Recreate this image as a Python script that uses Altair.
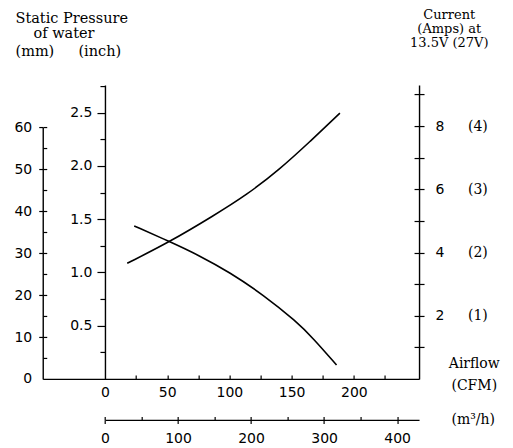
import altair as alt
import pandas as pd

# ---------------- data ----------------
pressure_cfm = [23.5, 52.2, 75.0, 100.4, 127.2, 154.0, 167.3, 186.1]
pressure_inch = [1.437, 1.289, 1.164, 1.0, 0.79, 0.538, 0.382, 0.131]

current_cfm = [17.9, 52.2, 87.0, 113.8, 140.6, 164.7, 188.8]
current_amps = [3.66, 4.34, 5.16, 5.82, 6.64, 7.51, 8.41]

cfm_labels = [0, 50, 100, 150, 200]
cfm_ticks = [25, 50, 75, 100, 125, 150, 175, 200, 225]
m3h_labels = [0, 100, 200, 300, 400]
m3h_ticks = [0, 50, 100, 150, 200, 250, 300, 350, 400]
inch_labels = [0.5, 1.0, 1.5, 2.0, 2.5]
inch_minor = [0.25, 0.75, 1.25, 1.75, 2.25, 2.75]
mm_labels = [0, 10, 20, 30, 40, 50, 60]
mm_major = [10, 20, 30, 40, 50, 60]
mm_ticks = [5, 10, 15, 20, 25, 30, 35, 40, 45, 50, 55, 60]
amp_labels = [2, 4, 6, 8]
amp_ticks = [1, 2, 3, 4, 5, 6, 7, 8, 9]

left_title = ["Static Pressure", "of water", "(mm)", "(inch)"]
right_title = ["Current", "(Amps) at", "13.5V  (27V)"]
flow_title = ["Airflow", "(CFM)"]
m3h_title = "(m³/h)"

# ---------------- layout ----------------
W, H = 376.5, 294
CFM_DOMAIN = [-50, 252.4]
INCH_DOMAIN = [0, 2.76]
MM_DOMAIN = [0, 60]
MM_RANGE = [H, H - 60 / 25.4 * H / INCH_DOMAIN[1]]
AMP_DOMAIN = [0, 9.3]
M3H_DOMAIN = [0, 430]
X0 = W * 50 / (CFM_DOMAIN[1] - CFM_DOMAIN[0])  # pixel of 0 CFM
M3H_RANGE = [X0, W]
M3H_OFF = 41
TITLE_FONT = "DejaVu Serif"
LT_SIZE = 14.5

cfm_scale = alt.Scale(domain=CFM_DOMAIN, nice=False, zero=False)
inch_scale = alt.Scale(domain=INCH_DOMAIN, nice=False, zero=False)
mm_scale = alt.Scale(domain=MM_DOMAIN, range=MM_RANGE, nice=False, zero=False)
amp_scale = alt.Scale(domain=AMP_DOMAIN, nice=False, zero=False)
m3h_scale = alt.Scale(domain=M3H_DOMAIN, range=M3H_RANGE, nice=False, zero=False)

line_style = dict(color="black", strokeWidth=1.6, interpolate="basis")

press_df = pd.DataFrame({"cfm": pressure_cfm, "inch": pressure_inch})
cur_df = pd.DataFrame({"cfm": current_cfm, "amps": current_amps})

pressure = alt.Chart(press_df).mark_line(**line_style).encode(
    x=alt.X("cfm:Q", scale=cfm_scale,
            axis=alt.Axis(orient="bottom", values=cfm_labels, ticks=False, labelPadding=7,
                          domain=True, title=flow_title, titleX=431.25, titleY=-11,
                          titleAngle=0, titleAlign="center", titleBaseline="alphabetic",
                          titleLineHeight=22)),
    y=alt.Y("inch:Q", scale=inch_scale,
            axis=alt.Axis(orient="left", offset=-X0, values=inch_labels, format=".1f",
                          tickSize=8, labelPadding=5, domain=True,
                          title=left_title[3], titleX=-27, titleY=-30, titleAngle=0,
                          titleFontSize=LT_SIZE, titleAlign="left",
                          titleBaseline="alphabetic")),
)

current = alt.Chart(cur_df).mark_line(**line_style).encode(
    x=alt.X("cfm:Q", scale=cfm_scale,
            axis=alt.Axis(orient="top", offset=-H, values=cfm_ticks, labels=False,
                          domain=False, tickSize=4, title=None)),
    y=alt.Y("amps:Q", scale=amp_scale,
            axis=alt.Axis(orient="right", values=amp_labels, ticks=False, labelPadding=16,
                          domain=True, title=right_title, titleX=29.75, titleY=-66.5,
                          titleAngle=0, titleAlign="center", titleBaseline="alphabetic",
                          titleFontSize=13, titleLineHeight=13.8)),
)


def ylayer(values, scale, axis):
    df = pd.DataFrame({"v": values})
    return alt.Chart(df).mark_point(opacity=0).encode(
        y=alt.Y("v:Q", scale=scale, axis=axis))


def xlayer(values, scale, axis):
    df = pd.DataFrame({"v": values})
    return alt.Chart(df).mark_point(opacity=0).encode(
        x=alt.X("v:Q", scale=scale, axis=axis))


inch_minor_l = ylayer(inch_minor, inch_scale, alt.Axis(
    orient="left", offset=-X0, values=inch_minor, labels=False, domain=False, tickSize=5,
    title=left_title[1], titleX=-9.75 - X0, titleY=-47.5, titleAngle=0,
    titleFontSize=LT_SIZE, titleAlign="left", titleBaseline="alphabetic"))

mm_label_l = ylayer(mm_labels, mm_scale, alt.Axis(
    orient="left", values=mm_labels, ticks=False, labelPadding=11, domain=True,
    title=left_title[2], titleX=-27.75, titleY=-30, titleAngle=0, titleFontSize=LT_SIZE,
    titleAlign="left", titleBaseline="alphabetic"))

mm_left_l = ylayer(mm_major, mm_scale, alt.Axis(
    orient="left", values=mm_major, labels=False, domain=False, tickSize=4, title=None))

mm_in_l = ylayer(mm_ticks, mm_scale, alt.Axis(
    orient="right", offset=-W, values=mm_ticks, labels=False, domain=False, tickSize=4,
    title=left_title[0], titleX=-27.75, titleY=-63, titleAngle=0, titleFontSize=LT_SIZE,
    titleAlign="left", titleBaseline="alphabetic"))

amp_out_l = ylayer(amp_ticks, amp_scale, alt.Axis(
    orient="right", values=amp_ticks, labels=False, domain=False, tickSize=5, title=None))

amp_in_l = ylayer(amp_ticks, amp_scale, alt.Axis(
    orient="left", offset=-W, values=amp_ticks, labels=False, domain=False, tickSize=5,
    title=None))

amp27_l = ylayer(amp_labels, amp_scale, alt.Axis(
    orient="right", values=amp_labels, ticks=False, domain=False, labelPadding=48.5,
    labelExpr="'(' + (datum.value / 2) + ')'", labelFont=TITLE_FONT, title=None))

m3h_label_l = xlayer(m3h_labels, m3h_scale, alt.Axis(
    orient="bottom", offset=M3H_OFF, values=m3h_labels, ticks=False, labelPadding=12,
    domain=True, title=m3h_title, titleX=430.25, titleY=4, titleAngle=0,
    titleAlign="center", titleBaseline="alphabetic"))

m3h_down_l = xlayer(m3h_labels, m3h_scale, alt.Axis(
    orient="bottom", offset=M3H_OFF, values=m3h_labels, labels=False, domain=False,
    tickSize=3.5, title=None))

m3h_up_l = xlayer(m3h_ticks, m3h_scale, alt.Axis(
    orient="top", offset=-(H + M3H_OFF), values=m3h_ticks, labels=False, domain=False,
    tickSize=3.5, title=None))

chart = alt.layer(
    pressure, current, inch_minor_l, mm_label_l, mm_left_l, mm_in_l,
    amp_out_l, amp_in_l, amp27_l, m3h_label_l, m3h_down_l, m3h_up_l,
).resolve_scale(
    x="independent", y="independent"
).properties(
    width=W, height=H,
    autosize=alt.AutoSizeParams(type="none"),
    padding={"left": 34.75, "top": 77, "right": 86, "bottom": 68},
    background="white",
).configure_axis(
    grid=False,
    domainColor="black", domainWidth=1.4,
    tickColor="black", tickWidth=1.2,
    labelFont="DejaVu Sans", labelFontSize=14, labelColor="black",
    labelFlush=False, labelOverlap=False,
    titleFont=TITLE_FONT, titleFontSize=14, titleFontWeight="normal",
    titleColor="black",
).configure_view(stroke=None)

chart.save("out.html", embed_options={"renderer": "svg", "actions": False})
